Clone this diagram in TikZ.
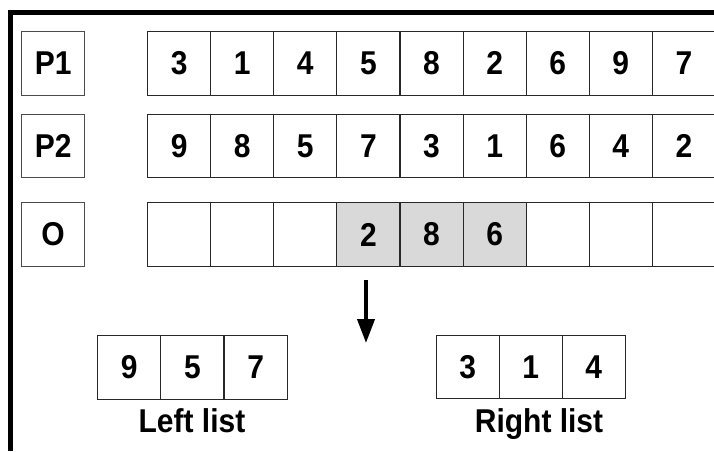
\documentclass[tikz,border=0pt]{standalone}
\usepackage{fontspec}
\usepackage{graphicx}
\setmainfont{Liberation Sans}
\usetikzlibrary{arrows.meta}
\definecolor{cellgray}{RGB}{217,217,217}
\definecolor{lineclr}{RGB}{40,40,40}
\newcommand\tallt[1]{\scalebox{1}[1.1]{#1}}
\begin{document}
\begin{tikzpicture}[x=1pt,y=-1pt,
  bigfont/.style={font=\fontsize{30}{32}\selectfont\bfseries},
  cell/.style={draw=lineclr, line width=1.1pt, minimum width=63.1pt, minimum height=63.5pt,
    inner sep=0pt, anchor=north west, bigfont},
  labelbox/.style={cell, draw=black!70},
  hl/.style={cell, fill=cellgray},
  caption/.style={bigfont, anchor=base, inner sep=0pt},
  frame/.style={line width=5pt, black}]
\useasboundingbox (0,0) rectangle (714,451);
\clip (0,0) rectangle (714,451);
\draw[frame] (10.5,451) -- (10.5,12.5) -- (714,12.5);
% row labels
\node[labelbox] (lP1) at (21,31) {\tallt{P1}};
\node[labelbox] (lP2) at (21,113.7) {\tallt{P2}};
\node[labelbox] (lO) at (21,202.3) {\tallt{O}};
% P1 row
\foreach \v [count=\i from 0] in {3,1,4,5,8,2,6,9,7}
  \node[cell] (p1c\i) at ({147+63.1*\i},31) {\tallt{\v}};
% P2 row
\foreach \v [count=\i from 0] in {9,8,5,7,3,1,6,4,2}
  \node[cell] (p2c\i) at ({147+63.1*\i},113.7) {\tallt{\v}};
% O row
\foreach \i in {0,1,2,6,7,8}
  \node[cell] (oc\i) at ({147+63.1*\i},202.3) {};
\foreach \v [count=\i from 3] in {2,8,6}
  \node[hl] (oc\i) at ({147+63.1*\i},202.3) {\tallt{\v}};
% arrow
\coordinate (arrtop) at (366,280);
\coordinate (arrbot) at (366,343);
\draw[line width=4pt,-{Triangle[width=17pt,length=24pt]}] (arrtop) -- (arrbot);
% left list
\foreach \v [count=\i from 0] in {9,5,7}
  \node[cell] (lc\i) at ({97+63.3*\i},335) {\tallt{\v}};
\node[caption] (leftlbl) at (192,432) {\tallt{Left list}};
% right list
\foreach \v [count=\i from 0] in {3,1,4}
  \node[cell] (rc\i) at ({435.7+62.9*\i},334.5) {\tallt{\v}};
\node[caption] (rightlbl) at (539,432) {\tallt{Right list}};
\end{tikzpicture}
\end{document}
